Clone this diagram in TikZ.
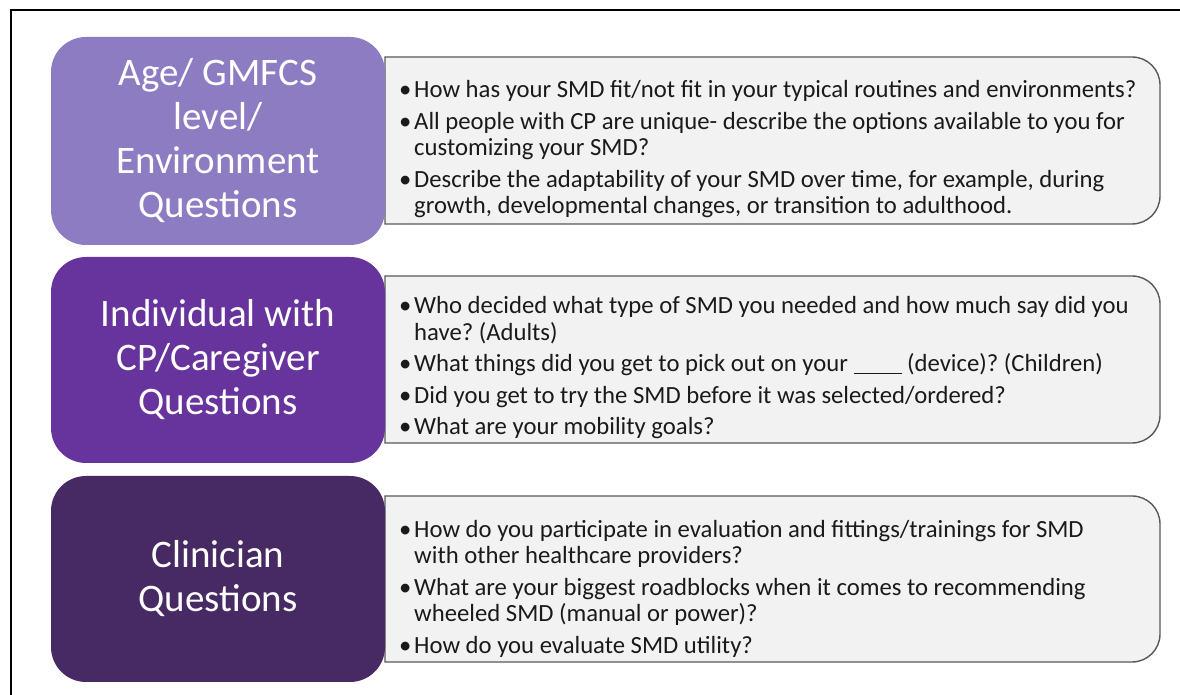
\documentclass[tikz,border=0pt]{standalone}
\usepackage{fontspec}
\setmainfont{Carlito}
\definecolor{pA}{HTML}{8E7CC3}
\definecolor{pB}{HTML}{66349C}
\definecolor{pC}{HTML}{472A63}
\definecolor{greyfill}{HTML}{F2F2F2}
\definecolor{greyline}{HTML}{595959}
\definecolor{bodytext}{HTML}{1A1A1A}
\newcommand{\bitem}[1]{\par\hangindent=15pt\hangafter=1\noindent\makebox[15pt][l]{\textbullet}#1\par}
\newcommand{\blank}{\rule[-2pt]{48pt}{1.1pt}}
\frenchspacing
\begin{document}
\begin{tikzpicture}[x=1pt,y=1pt,
  titlebox/.style={draw=none, rounded corners=35pt, minimum width=334pt, text=white, align=center, inner sep=0pt,
    font=\fontsize{39}{44}\selectfont},
  listbox/.style={draw=greyline, line width=1.4pt, fill=greyfill},
  listtext/.style={anchor=west, inner sep=0pt, text width=760pt, align=flush left, text=bodytext,
    font=\fontsize{24.7}{26.5}\selectfont\frenchspacing\setlength{\parskip}{5pt}},
  frameline/.style={line width=2pt, black}]
\useasboundingbox (0,0) rectangle (1180,695);
% frame
\coordinate (fr1) at (1180,684.5);
\coordinate (fr2) at (10.5,684.5);
\coordinate (fr3) at (10.5,0);
\draw[frameline] (fr1) -- (fr2) -- (fr3);
% grey boxes
\draw[listbox] (385,638) -- (1132,638) arc[start angle=90,end angle=0,radius=28pt] -- (1160,499) arc[start angle=0,end angle=-90,radius=28pt] -- (385,471) -- cycle;
\draw[listbox] (385,419) -- (1132,419) arc[start angle=90,end angle=0,radius=28pt] -- (1160,280) arc[start angle=0,end angle=-90,radius=28pt] -- (385,252) -- cycle;
\draw[listbox] (385,199) -- (1132,199) arc[start angle=90,end angle=0,radius=28pt] -- (1160,61) arc[start angle=0,end angle=-90,radius=28pt] -- (385,33) -- cycle;
% purple boxes
\node[titlebox, fill=pA, minimum height=208pt] (t1) at (218,554) {Age/ GMFCS\\level/\\Environment\\Questions};
\node[titlebox, fill=pB, minimum height=206pt] (t2) at (218,335) {Individual with\\CP/Caregiver\\Questions};
\node[titlebox, fill=pC, minimum height=206pt] (t3) at (218,116) {Clinician\\Questions};
% texts
\node[listtext] (l1) at (399,553) {%
\bitem{How has your SMD fit/not fit in your typical routines and environments?}
\bitem{All people with CP are unique- describe the options available to you for\newline customizing your SMD?}
\bitem{Describe the adaptability of your SMD over time, for example, during\newline growth, developmental changes, or transition to adulthood.}};
\node[listtext] (l2) at (399,334.5) {%
\bitem{Who decided what type of SMD you needed and how much say did you\newline have? (Adults)}
\bitem{What things did you get to pick out on your \blank{} (device)? (Children)}
\bitem{Did you get to try the SMD before it was selected/ordered?}
\bitem{What are your mobility goals?}};
\node[listtext] (l3) at (399,113.5) {%
\bitem{How do you participate in evaluation and fittings/trainings for SMD\newline with other healthcare providers?}
\bitem{What are your biggest roadblocks when it comes to recommending\newline wheeled SMD (manual or power)?}
\bitem{How do you evaluate SMD utility?}};
\end{tikzpicture}
\end{document}
